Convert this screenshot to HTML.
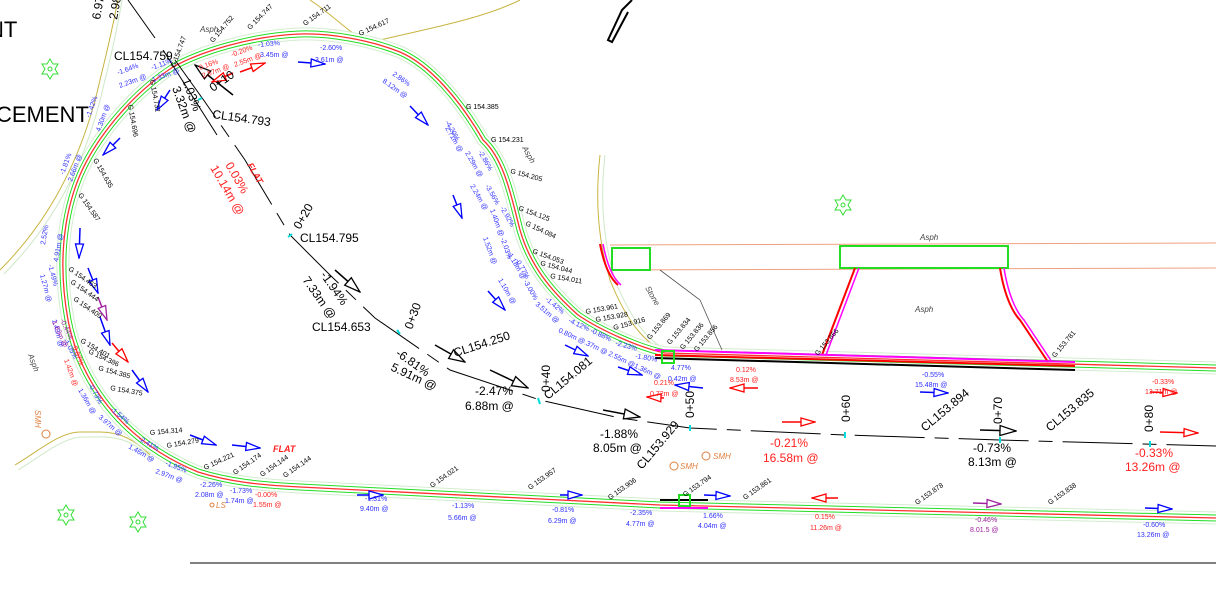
<!DOCTYPE html>
<html><head><meta charset="utf-8"><style>
html,body{margin:0;padding:0;background:#fff;}
svg{display:block;font-family:"Liberation Sans",sans-serif;}
</style></head><body>
<svg width="1216" height="608" viewBox="0 0 1216 608" xmlns="http://www.w3.org/2000/svg">
<defs>
<marker id="ab" markerWidth="16" markerHeight="10" refX="15" refY="5" orient="auto" markerUnits="userSpaceOnUse"><path d="M1,1 L15,5 L1,9 Z" fill="#fff" stroke="#0000ff" stroke-width="1.3"/></marker>
<marker id="ar" markerWidth="16" markerHeight="10" refX="15" refY="5" orient="auto" markerUnits="userSpaceOnUse"><path d="M1,1 L15,5 L1,9 Z" fill="#fff" stroke="#ff0000" stroke-width="1.3"/></marker>
<marker id="ak" markerWidth="18" markerHeight="12" refX="17" refY="6" orient="auto" markerUnits="userSpaceOnUse"><path d="M1,1 L17,6 L1,11 Z" fill="#fff" stroke="#000" stroke-width="1.3"/></marker>
<marker id="am" markerWidth="16" markerHeight="10" refX="15" refY="5" orient="auto" markerUnits="userSpaceOnUse"><path d="M1,1 L15,5 L1,9 Z" fill="#fff" stroke="#a020a0" stroke-width="1.3"/></marker>
<path id="rd" d="M1216,368 L665,353 C640,348 600,330 578,315 C550,290 530,265 520,230 C512,200 505,160 483,140 C460,100 430,65 400,52 C370,40 330,33 300,34 C250,36 200,52 173,67 C130,95 95,140 80,175 C63,215 58,265 68,320 C80,380 120,440 198,472 C230,482 260,485 300,487 L660,505 L1216,518"/>
</defs>
<rect width="1216" height="608" fill="#fff"/>

<!-- yellow side paths -->
<path d="M0,270 C40,230 80,170 100,80 C110,40 115,15 118,0" fill="none" stroke="#c8b440" stroke-width="1"/>
<path d="M4,274 C44,234 84,174 104,84 C114,44 119,19 122,0" fill="none" stroke="#cfe8c8" stroke-width="1"/>
<path d="M15,465 C40,450 60,432 80,432 L100,432 C120,432 135,440 150,455" fill="none" stroke="#c8b440" stroke-width="1"/>
<path d="M18,470 C43,455 63,437 83,437 L103,437 C123,437 138,445 153,460" fill="none" stroke="#cfe8c8" stroke-width="1"/>
<path d="M310,0 C340,20 355,40 372,42 C420,30 480,20 520,0" fill="none" stroke="#c8b440" stroke-width="1"/>
<path d="M600,155 C595,200 598,240 610,280 C630,330 650,345 665,352" fill="none" stroke="#c8b440" stroke-width="1"/>
<path d="M605,155 C600,200 603,240 615,280 C635,330 655,345 670,352" fill="none" stroke="#cfe8c8" stroke-width="1"/>

<!-- main road edge -->
<g fill="none">
<use href="#rd" stroke="#d4ecd0" stroke-width="13"/>
<use href="#rd" stroke="#fff" stroke-width="11"/>
<use href="#rd" stroke="#22dd22" stroke-width="7"/>
<use href="#rd" stroke="#fff" stroke-width="5"/>
<use href="#rd" stroke="#ff3030" stroke-width="1.3"/>
</g>

<!-- right side road -->
<path d="M610,245 L1216,243" stroke="#f0a080" stroke-width="1"/>
<path d="M610,270 L1216,268" stroke="#f0a080" stroke-width="1"/>
<rect x="612" y="248" width="38" height="22" fill="none" stroke="#22dd22" stroke-width="2"/>
<rect x="840" y="246" width="168" height="22" fill="none" stroke="#22dd22" stroke-width="2"/>
<path d="M600,244 C605,270 612,280 618,285" stroke="#ff0000" stroke-width="2" fill="none"/>
<path d="M603,244 C608,270 615,280 621,285" stroke="#ff00ff" stroke-width="1.5" fill="none"/>
<path d="M855,268 L822,355" stroke="#ff0000" stroke-width="2"/>
<path d="M859,268 L826,355" stroke="#ff00ff" stroke-width="1.5"/>
<path d="M1000,268 C1005,300 1015,315 1020,320 L1048,362" stroke="#ff0000" stroke-width="2" fill="none"/>
<path d="M1004,268 C1009,300 1019,315 1024,320 L1052,362" stroke="#ff00ff" stroke-width="1.5" fill="none"/>
<path d="M655,350 L1075,362" stroke="#ff00ff" stroke-width="2"/>
<path d="M655,355 L1075,366" stroke="#ff0000" stroke-width="2"/>
<path d="M655,358 L1075,370" stroke="#000" stroke-width="2"/>
<path d="M660,270 L700,300 L722,350" stroke="#555" stroke-width="0.8" fill="none"/>
<rect x="662" y="351" width="12" height="12" fill="none" stroke="#22dd22" stroke-width="2"/>
<path d="M660,500 L708,500" stroke="#000" stroke-width="2"/>
<path d="M660,508 L708,508" stroke="#ff00ff" stroke-width="2"/>
<rect x="679" y="495" width="11" height="11" fill="none" stroke="#22dd22" stroke-width="2"/>

<!-- top black shape -->
<path d="M632,0 L622,10 L608,40 L612,42 L628,12" fill="none" stroke="#000" stroke-width="2"/>
<path d="M128,0 L155,38" stroke="#000" stroke-width="1"/>
<path d="M163,50 L217,135" stroke="#000" stroke-width="1"/>
<!-- bottom black line -->
<path d="M190,563 L1216,563" stroke="#000" stroke-width="1"/>

<!-- centerline -->
<polyline points="175,60 205,102 245,160 290,235 330,275 375,318 450,370 540,400 620,418 690,428 845,435 1000,440 1216,446" fill="none" stroke="#000" stroke-width="1" stroke-dasharray="70,10,14,10"/>
<g stroke="#00dddd" stroke-width="2"><path d="M198,100 L202,98"/><path d="M288,237 L292,234"/><path d="M397,330 L400,334"/><path d="M538,398 L540,404"/><path d="M690,425 L690,431"/><path d="M845,432 L845,438"/><path d="M1000,437 L1000,443"/><path d="M1150,441 L1150,447"/></g>

<!-- arrows -->
<g stroke-width="1.5" fill="none">
<path d="M233,95 L195,65" stroke="#000" marker-end="url(#ak)"/>
<path d="M335,270 L360,292" stroke="#000" marker-end="url(#ak)"/>
<path d="M435,345 L465,362" stroke="#000" marker-end="url(#ak)"/>
<path d="M490,370 L528,388" stroke="#000" marker-end="url(#ak)"/>
<path d="M603,410 L640,417" stroke="#000" marker-end="url(#ak)"/>
<path d="M980,430 L1016,431" stroke="#000" marker-end="url(#ak)"/>
<path d="M233,73 L212,82" stroke="#ff0000" marker-end="url(#ar)"/>
<path d="M240,72 L265,63" stroke="#ff0000" marker-end="url(#ar)"/>
<path d="M112,343 L128,362" stroke="#ff0000" marker-end="url(#ar)"/>
<path d="M782,422 L815,422" stroke="#ff0000" marker-end="url(#ar)"/>
<path d="M1160,432 L1198,433" stroke="#ff0000" marker-end="url(#ar)"/>
<path d="M1150,392 L1177,393" stroke="#ff0000" marker-end="url(#ar)"/>
<path d="M758,388 L730,388" stroke="#ff0000" marker-end="url(#ar)"/>
<path d="M664,398 L647,397" stroke="#ff0000" marker-end="url(#ar)"/>
<path d="M838,498 L812,498" stroke="#ff0000" marker-end="url(#ar)"/>
<path d="M170,90 L157,110" stroke="#0000ff" marker-end="url(#ab)"/>
<path d="M120,138 L103,155" stroke="#0000ff" marker-end="url(#ab)"/>
<path d="M80,228 L79,258" stroke="#0000ff" marker-end="url(#ab)"/>
<path d="M88,268 L98,293" stroke="#0000ff" marker-end="url(#ab)"/>
<path d="M100,317 L110,345" stroke="#0000ff" marker-end="url(#ab)"/>
<path d="M132,370 L148,392" stroke="#0000ff" marker-end="url(#ab)"/>
<path d="M190,435 L216,445" stroke="#0000ff" marker-end="url(#ab)"/>
<path d="M232,445 L260,448" stroke="#0000ff" marker-end="url(#ab)"/>
<path d="M298,62 L325,64" stroke="#0000ff" marker-end="url(#ab)"/>
<path d="M410,106 L428,125" stroke="#0000ff" marker-end="url(#ab)"/>
<path d="M453,195 L462,218" stroke="#0000ff" marker-end="url(#ab)"/>
<path d="M488,291 L505,310" stroke="#0000ff" marker-end="url(#ab)"/>
<path d="M565,345 L588,356" stroke="#0000ff" marker-end="url(#ab)"/>
<path d="M618,367 L642,375" stroke="#0000ff" marker-end="url(#ab)"/>
<path d="M703,388 L675,385" stroke="#0000ff" marker-end="url(#ab)"/>
<path d="M920,392 L948,393" stroke="#0000ff" marker-end="url(#ab)"/>
<path d="M357,495 L383,495" stroke="#0000ff" marker-end="url(#ab)"/>
<path d="M560,495 L582,495" stroke="#0000ff" marker-end="url(#ab)"/>
<path d="M704,495 L730,496" stroke="#0000ff" marker-end="url(#ab)"/>
<path d="M1145,508 L1172,509" stroke="#0000ff" marker-end="url(#ab)"/>
<path d="M98,297 L107,320" stroke="#a020a0" marker-end="url(#am)"/>
<path d="M973,503 L1001,504" stroke="#a020a0" marker-end="url(#am)"/>
</g>

<!-- big left text -->
<text x="-12" y="37" font-size="22">NT</text>
<text x="-4" y="122" font-size="22">CEMENT</text>

<!-- CL labels -->
<g font-size="12" fill="#000">
<text x="114" y="60">CL154.759</text>
<text x="212" y="118" transform="rotate(8 212 118)">CL154.793</text>
<text x="300" y="242">CL154.795</text>
<text x="312" y="331">CL154.653</text>
<text x="455" y="357" transform="rotate(-18 455 357)">CL154.250</text>
<text x="548" y="400" transform="rotate(-40 548 400)">CL154.081</text>
<text x="642" y="470" transform="rotate(-50 642 470)">CL153.929</text>
<text x="925" y="432" transform="rotate(-40 925 432)">CL153.894</text>
<text x="1050" y="432" transform="rotate(-40 1050 432)">CL153.835</text>
<text x="213" y="92" transform="rotate(-35 213 92)">0+10</text>
<text x="300" y="230" transform="rotate(-60 300 230)">0+20</text>
<text x="412" y="330" transform="rotate(-70 412 330)">0+30</text>
<text x="550" y="392" transform="rotate(-90 550 392)">0+40</text>
<text x="694" y="418" transform="rotate(-90 694 418)">0+50</text>
<text x="850" y="422" transform="rotate(-90 850 422)">0+60</text>
<text x="1002" y="424" transform="rotate(-90 1002 424)">0+70</text>
<text x="1153" y="432" transform="rotate(-90 1153 432)">0+80</text>
<text x="320" y="275" transform="rotate(55 320 275)">-1.94%</text>
<text x="302" y="280" transform="rotate(55 302 280)">7.33m @</text>
<text x="395" y="355" transform="rotate(35 395 355)">-6.81%</text>
<text x="390" y="370" transform="rotate(25 390 370)">5.91m @</text>
<text x="475" y="395">-2.47%</text>
<text x="465" y="410">6.88m @</text>
<text x="600" y="438">-1.88%</text>
<text x="593" y="452">8.05m @</text>
<text x="973" y="452">-0.73%</text>
<text x="968" y="466">8.13m @</text>
<text x="182" y="80" transform="rotate(70 182 80)">1.03%</text>
<text x="172" y="88" transform="rotate(70 172 88)">3.32m @</text>
<text x="100" y="20" transform="rotate(-80 100 20)">6.97m @</text>
<text x="117" y="20" transform="rotate(-80 117 20)">2.98%</text>
</g>
<g font-size="12" fill="#ff2020">
<text x="770" y="447">-0.21%</text>
<text x="763" y="462">16.58m @</text>
<text x="1135" y="457">-0.33%</text>
<text x="1125" y="471">13.26m @</text>
<text x="225" y="165" transform="rotate(60 225 165)">0.03%</text>
<text x="210" y="168" transform="rotate(60 210 168)">10.14m @</text>
<text x="247" y="165" font-size="9" font-style="italic" font-weight="bold" transform="rotate(60 247 165)">FLAT</text>
<text x="273" y="452" font-size="9" font-style="italic" font-weight="bold">FLAT</text>
</g>

<!-- small G labels -->
<g font-size="7" fill="#000">
<text x="175" y="68" transform="rotate(-70 175 68)">G 154.747</text>
<text x="213" y="43" transform="rotate(-50 213 43)">G 154.752</text>
<text x="250" y="30" transform="rotate(-45 250 30)">G 154.747</text>
<text x="305" y="26" transform="rotate(-35 305 26)">G 154.711</text>
<text x="360" y="36" transform="rotate(-25 360 36)">G 154.617</text>
<text x="150" y="80" transform="rotate(80 150 80)">G 154.732</text>
<text x="128" y="105" transform="rotate(80 128 105)">G 154.696</text>
<text x="93" y="160" transform="rotate(60 93 160)">G 154.635</text>
<text x="78" y="195" transform="rotate(55 78 195)">G 154.587</text>
<text x="68" y="270" transform="rotate(35 68 270)">G 154.463</text>
<text x="70" y="283" transform="rotate(35 70 283)">G 154.444</text>
<text x="73" y="300" transform="rotate(35 73 300)">G 154.409</text>
<text x="80" y="342" transform="rotate(30 80 342)">G 154.401</text>
<text x="88" y="353" transform="rotate(25 88 353)">G 154.386</text>
<text x="98" y="370" transform="rotate(15 98 370)">G 154.385</text>
<text x="110" y="390" transform="rotate(10 110 390)">G 154.375</text>
<text x="150" y="435" transform="rotate(-5 150 435)">G 154.314</text>
<text x="167" y="448" transform="rotate(-10 167 448)">G 154.279</text>
<text x="205" y="470" transform="rotate(-25 205 470)">G 154.221</text>
<text x="235" y="475" transform="rotate(-35 235 475)">G 154.174</text>
<text x="262" y="477" transform="rotate(-35 262 477)">G 154.144</text>
<text x="285" y="478" transform="rotate(-35 285 478)">G 154.144</text>
<text x="432" y="488" transform="rotate(-35 432 488)">G 154.021</text>
<text x="530" y="490" transform="rotate(-35 530 490)">G 153.957</text>
<text x="610" y="500" transform="rotate(-35 610 500)">G 153.906</text>
<text x="685" y="497" transform="rotate(-35 685 497)">G 153.794</text>
<text x="745" y="500" transform="rotate(-35 745 500)">G 153.861</text>
<text x="917" y="505" transform="rotate(-35 917 505)">G 153.878</text>
<text x="1050" y="505" transform="rotate(-35 1050 505)">G 153.838</text>
<text x="466" y="109">G 154.385</text>
<text x="491" y="142">G 154.231</text>
<text x="510" y="173" transform="rotate(15 510 173)">G 154.205</text>
<text x="518" y="210" transform="rotate(20 518 210)">G 154.125</text>
<text x="525" y="225" transform="rotate(25 525 225)">G 154.084</text>
<text x="532" y="253" transform="rotate(20 532 253)">G 154.053</text>
<text x="540" y="265" transform="rotate(15 540 265)">G 154.044</text>
<text x="550" y="278" transform="rotate(10 550 278)">G 154.011</text>
<text x="586" y="314" transform="rotate(-10 586 314)">G 153.961</text>
<text x="596" y="322" transform="rotate(-10 596 322)">G 153.928</text>
<text x="614" y="330" transform="rotate(-15 614 330)">G 153.916</text>
<text x="650" y="340" transform="rotate(-50 650 340)">G 153.869</text>
<text x="670" y="345" transform="rotate(-50 670 345)">G 153.834</text>
<text x="683" y="350" transform="rotate(-50 683 350)">G 153.836</text>
<text x="697" y="352" transform="rotate(-50 697 352)">G 153.856</text>
<text x="818" y="356" transform="rotate(-50 818 356)">G 153.866</text>
<text x="1055" y="358" transform="rotate(-50 1055 358)">G 153.781</text>
</g>
<g font-size="8" fill="#444" font-style="italic">
<text x="920" y="240">Asph</text>
<text x="915" y="312">Asph</text>
<text x="200" y="32">Asph</text>
<text x="28" y="355" transform="rotate(70 28 355)">Asph</text>
<text x="645" y="288" transform="rotate(60 645 288)">Stone</text>
<text x="522" y="148" transform="rotate(60 522 148)">Asph</text>
</g>

<!-- blue grade labels -->
<g font-size="7" fill="#3030ff">
<text x="258" y="47" transform="rotate(-5 258 47)">-1.03%</text>
<text x="260" y="57">3.45m @</text>
<text x="320" y="50">-2.60%</text>
<text x="315" y="62">3.61m @</text>
<text x="392" y="75" transform="rotate(35 392 75)">2.86%</text>
<text x="382" y="82" transform="rotate(35 382 82)">8.12m @</text>
<text x="118" y="75" transform="rotate(-20 118 75)">-1.64%</text>
<text x="120" y="88" transform="rotate(-20 120 88)">2.23m @</text>
<text x="152" y="70" transform="rotate(-20 152 70)">-1.11%</text>
<text x="153" y="82" transform="rotate(-20 153 82)">1.33m @</text>
<text x="90" y="118" transform="rotate(-70 90 118)">-1.42%</text>
<text x="100" y="132" transform="rotate(-70 100 132)">4.30m @</text>
<text x="64" y="175" transform="rotate(-70 64 175)">-1.81%</text>
<text x="72" y="182" transform="rotate(-70 72 182)">2.66m @</text>
<text x="45" y="245" transform="rotate(-80 45 245)">2.52%</text>
<text x="58" y="262" transform="rotate(-80 58 262)">4.91m @</text>
<text x="48" y="265" transform="rotate(75 48 265)">-1.49%</text>
<text x="40" y="275" transform="rotate(75 40 275)">1.27m @</text>
<text x="52" y="320" transform="rotate(75 52 320)">1.43m @</text>
<text x="63" y="340" transform="rotate(60 63 340)">-1.05%</text>
<text x="88" y="385" transform="rotate(60 88 385)">-0.73%</text>
<text x="78" y="390" transform="rotate(60 78 390)">1.36m @</text>
<text x="110" y="410" transform="rotate(40 110 410)">-1.54%</text>
<text x="98" y="418" transform="rotate(40 98 418)">3.97m @</text>
<text x="138" y="440" transform="rotate(30 138 440)">-2.41%</text>
<text x="128" y="448" transform="rotate(30 128 448)">1.46m @</text>
<text x="165" y="465" transform="rotate(20 165 465)">-1.95%</text>
<text x="155" y="473" transform="rotate(20 155 473)">2.97m @</text>
<text x="200" y="487">-2.26%</text>
<text x="195" y="497">2.08m @</text>
<text x="230" y="493">-1.73%</text>
<text x="225" y="503">1.74m @</text>
<text x="365" y="501">-1.31%</text>
<text x="360" y="511">9.40m @</text>
<text x="452" y="508">-1.13%</text>
<text x="448" y="520">5.66m @</text>
<text x="552" y="512">-0.81%</text>
<text x="548" y="523">6.29m @</text>
<text x="630" y="515">-2.35%</text>
<text x="626" y="526">4.77m @</text>
<text x="703" y="518">1.66%</text>
<text x="698" y="528">4.04m @</text>
<text x="1143" y="527">-0.60%</text>
<text x="1137" y="537">13.26m @</text>
<text x="922" y="377">-0.55%</text>
<text x="915" y="387">15.48m @</text>
<text x="671" y="370">4.77%</text>
<text x="668" y="381">0.42m @</text>
<text x="445" y="122" transform="rotate(60 445 122)">-4.20%</text>
<text x="445" y="128" transform="rotate(60 445 128)">2.71m @</text>
<text x="478" y="152" transform="rotate(60 478 152)">-2.86%</text>
<text x="465" y="153" transform="rotate(60 465 153)">2.29m @</text>
<text x="485" y="186" transform="rotate(60 485 186)">-3.56%</text>
<text x="470" y="186" transform="rotate(60 470 186)">2.24m @</text>
<text x="500" y="208" transform="rotate(60 500 208)">-2.92%</text>
<text x="490" y="210" transform="rotate(70 490 210)">1.40m @ -2.03%</text>
<text x="483" y="238" transform="rotate(70 483 238)">1.52m @</text>
<text x="508" y="255" transform="rotate(60 508 255)">1.18m @ -3.00%</text>
<text x="515" y="260" transform="rotate(60 515 260)">-0.77%</text>
<text x="498" y="280" transform="rotate(60 498 280)">1.10m @</text>
<text x="545" y="300" transform="rotate(40 545 300)">-1.42%</text>
<text x="535" y="305" transform="rotate(40 535 305)">3.51m @</text>
<text x="568" y="322" transform="rotate(25 568 322)">-4.12% -0.88%</text>
<text x="558" y="332" transform="rotate(25 558 332)">0.80m @.37m @ 2.55m @1.36m @</text>
<text x="615" y="345" transform="rotate(15 615 345)">-2.23%</text>
<text x="635" y="358" transform="rotate(10 635 358)">-1.80%</text>
</g>
<!-- red small labels -->
<g font-size="7" fill="#ff2020">
<text x="200" y="70" transform="rotate(-20 200 70)">0.16%</text>
<text x="203" y="78" transform="rotate(-20 203 78)">2.57m @</text>
<text x="232" y="57" transform="rotate(-20 232 57)">-0.20%</text>
<text x="235" y="67" transform="rotate(-20 235 67)">2.55m @</text>
<text x="255" y="497">-0.00%</text>
<text x="253" y="507">1.55m @</text>
<text x="736" y="372">0.12%</text>
<text x="730" y="382">8.53m @</text>
<text x="654" y="385">0.21%</text>
<text x="650" y="396">0.72m @</text>
<text x="815" y="519">0.15%</text>
<text x="810" y="530">11.26m @</text>
<text x="1152" y="384">-0.33%</text>
<text x="1145" y="394">13.71m @</text>
<text x="72" y="345" transform="rotate(70 72 345)">-0.07%</text>
<text x="64" y="360" transform="rotate(70 64 360)">1.42m @</text>
</g>
<g font-size="7" fill="#a020a0">
<text x="975" y="522">-0.46%</text>
<text x="970" y="532">8.01.5 @</text>
<text x="60" y="320" transform="rotate(65 60 320)">-0.44%</text>
<text x="52" y="322" transform="rotate(65 52 322)">1.83m @</text>
</g>

<!-- SMH / LS -->
<g fill="none" stroke="#e08040" stroke-width="1">
<circle cx="46" cy="434" r="4"/><circle cx="706" cy="456" r="4"/><circle cx="674" cy="466" r="4"/><circle cx="212" cy="505" r="2"/>
</g>
<g font-size="8" fill="#e08040" font-style="italic">
<text x="35" y="410" transform="rotate(90 35 410)">SMH</text>
<text x="713" y="459">SMH</text>
<text x="680" y="469">SMH</text>
<text x="216" y="508">LS</text>
</g>

<!-- green stars -->
<g fill="none" stroke="#33dd33" stroke-width="1">
<path d="M50,59 L53,64 L58,64 L55,69 L58,74 L53,74 L50,79 L47,74 L42,74 L45,69 L42,64 L47,64 Z"/><circle cx="50" cy="69" r="2"/>
<path d="M843,195 L846,200 L851,200 L848,205 L851,210 L846,210 L843,215 L840,210 L835,210 L838,205 L835,200 L840,200 Z"/><circle cx="843" cy="205" r="2"/>
<path d="M66,505 L69,510 L74,510 L71,515 L74,520 L69,520 L66,525 L63,520 L58,520 L61,515 L58,510 L63,510 Z"/><circle cx="66" cy="515" r="2"/>
<path d="M138,512 L141,517 L146,517 L143,522 L146,527 L141,527 L138,532 L135,527 L130,527 L133,522 L130,517 L135,517 Z"/><circle cx="138" cy="522" r="2"/>
</g>
</svg>
</body></html>
